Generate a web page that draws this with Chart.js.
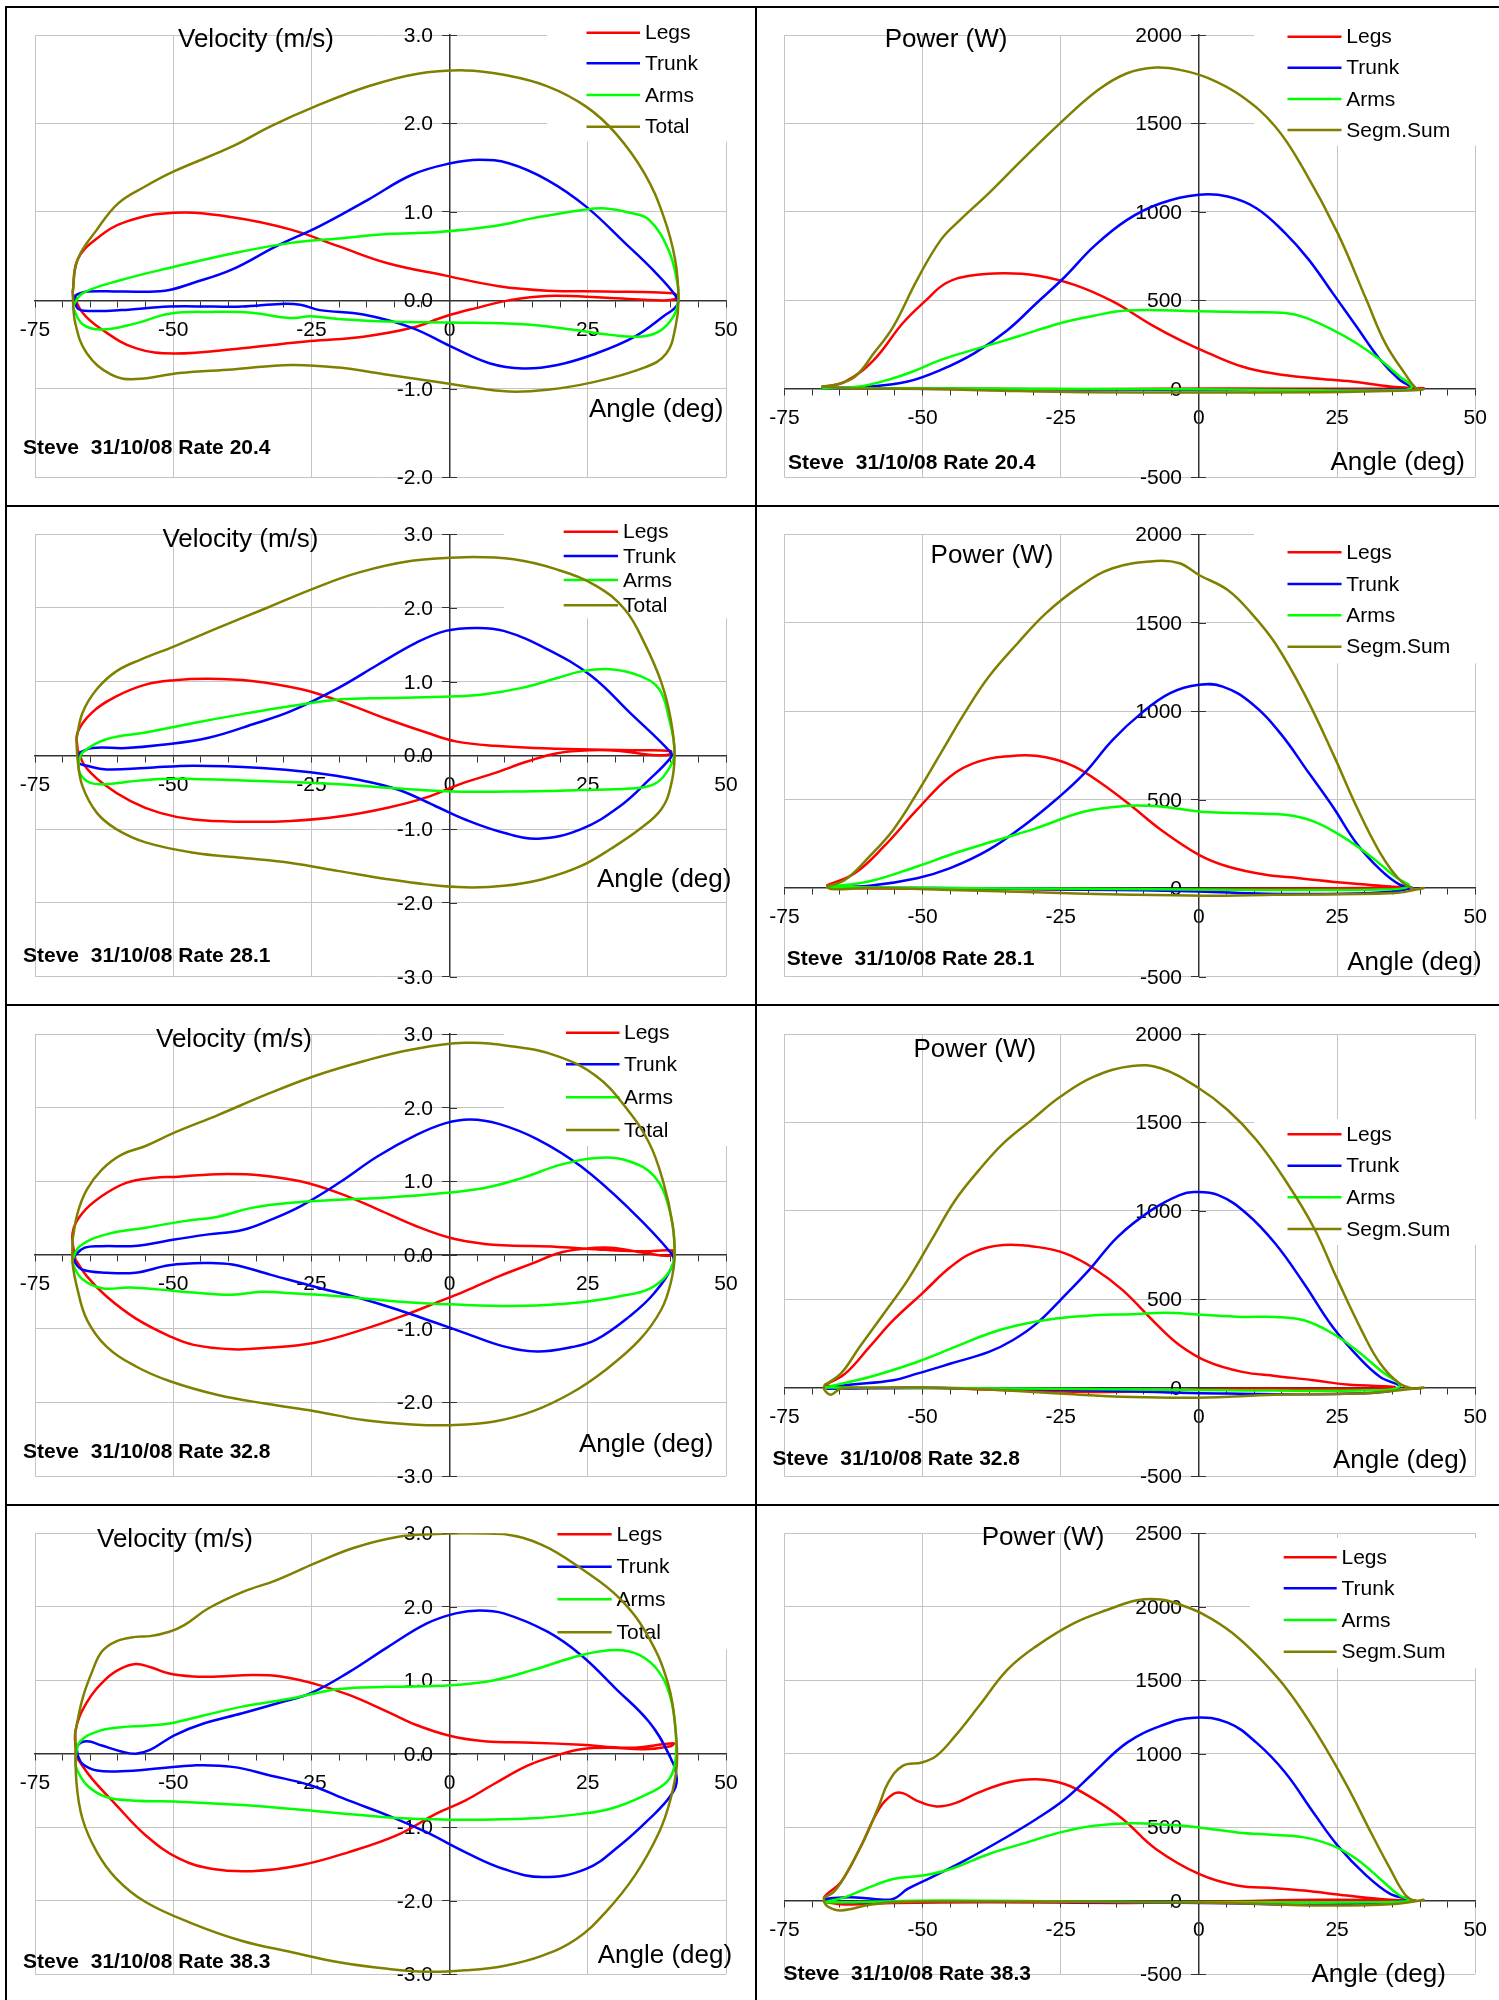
<!DOCTYPE html>
<html>
<head>
<meta charset="utf-8">
<script src="https://cdn.jsdelivr.net/npm/chart.js@4.4.1/dist/chart.umd.min.js"></script>
<style>
  html, body { margin: 0; padding: 0; background: #fff; }
  body { width: 1499px; height: 2000px; position: relative; overflow: hidden; }
  canvas { position: absolute; }
  .rule { position: absolute; background: #000; }
</style>
</head>
<body>
<script>
// Segment velocity and power against oar angle, four stroke rates.
// Every series is a closed loop of [angle (deg), value] pairs.

const RATES = ['20.4', '28.1', '32.8', '38.3'];
const VEL_LABELS = ['Legs', 'Trunk', 'Arms', 'Total'];
const POW_LABELS = ['Legs', 'Trunk', 'Arms', 'Segm.Sum'];
const ANGLE_TICKS = [-75, -50, -25, 0, 25, 50];
const VEL_TICKS_SLOW = [-2, -1, 0, 1, 2, 3];
const VEL_TICKS = [-3, -2, -1, 0, 1, 2, 3];
const POW_TICKS = [-500, 0, 500, 1000, 1500, 2000];
const POW_TICKS_HIGH = [-500, 0, 500, 1000, 1500, 2000, 2500];

// ---- velocity (m/s), rate 20.4
const vel204Legs = [[-68.2,0.08],[-67.3,0.46],[-63.8,0.7],[-58.5,0.89],[-49.8,0.99],[-39.3,0.94],[-28.7,0.8],[-20,0.61],[-11.2,0.42],[-0.7,0.28],[8.9,0.16],[17.7,0.11],[28.2,0.1],[40.5,0.08],[41.2,0.03],[38.7,0],[28.2,0.03],[17.7,0.05],[10.7,0],[4.6,-0.09],[-0.7,-0.18],[-6.8,-0.31],[-15.6,-0.41],[-25.2,-0.46],[-37.5,-0.54],[-49.8,-0.6],[-56.8,-0.54],[-62.9,-0.33],[-66.4,-0.14],[-68.2,0.08]];
const vel204Trunk = [[-67.7,0.06],[-65.6,0.1],[-59.4,0.1],[-51.5,0.11],[-46.3,0.2],[-39.3,0.35],[-31.4,0.61],[-23.5,0.84],[-14.7,1.14],[-6.8,1.42],[0.2,1.55],[5.4,1.59],[10.7,1.55],[17.7,1.36],[24.7,1.06],[31.7,0.65],[37,0.33],[40.9,0.05],[41.2,-0.05],[38.7,-0.18],[33.5,-0.41],[26.5,-0.6],[19.5,-0.73],[13.3,-0.77],[7.2,-0.71],[0.2,-0.52],[-6.8,-0.31],[-15.6,-0.16],[-23.5,-0.11],[-27,-0.05],[-30.5,-0.04],[-37.5,-0.07],[-42.8,-0.07],[-50.7,-0.07],[-59.4,-0.11],[-64.7,-0.12],[-67.3,-0.09],[-67.7,0.06]];
const vel204Arms = [[-68.2,-0.07],[-66.4,0.08],[-59.4,0.23],[-49.8,0.38],[-39.3,0.53],[-28.7,0.65],[-20,0.7],[-11.2,0.75],[-2.5,0.77],[8.1,0.84],[15.1,0.93],[23.8,1.02],[28.2,1.04],[32.6,0.99],[36.1,0.91],[39.6,0.57],[41.2,0.2],[41.4,0.01],[40.5,-0.18],[37.9,-0.35],[34.4,-0.41],[29.1,-0.39],[22.1,-0.33],[13.3,-0.27],[0.2,-0.25],[-11.2,-0.24],[-20,-0.21],[-25.2,-0.18],[-28.7,-0.2],[-35.8,-0.14],[-42.8,-0.13],[-50.7,-0.15],[-56.8,-0.26],[-62.9,-0.33],[-66.4,-0.27],[-68.2,-0.07]];
const vel204Total = [[-68.2,0.08],[-67.3,0.46],[-63.8,0.8],[-59.9,1.1],[-55,1.29],[-49.8,1.46],[-39.3,1.74],[-32.3,1.97],[-24.4,2.19],[-14.7,2.42],[-6,2.56],[2.8,2.6],[9.8,2.55],[17.7,2.42],[24.7,2.19],[30,1.89],[35.2,1.44],[38.7,0.95],[40.8,0.46],[41.4,0],[40.9,-0.29],[39.2,-0.6],[35.2,-0.76],[25.6,-0.93],[17.7,-1.01],[10.7,-1.03],[2.8,-0.97],[-2.5,-0.92],[-11.2,-0.84],[-20,-0.76],[-28.7,-0.73],[-39.3,-0.78],[-48.9,-0.82],[-56.8,-0.89],[-61.2,-0.84],[-65.6,-0.6],[-67.7,-0.26],[-68.2,0.08]];

// ---- velocity (m/s), rate 28.1
const vel281Legs = [[-67.3,0.08],[-67.3,0.31],[-64.7,0.58],[-60.3,0.8],[-55,0.96],[-49.8,1.02],[-43.6,1.04],[-35.8,1.01],[-27,0.9],[-20,0.74],[-11.2,0.49],[-4.2,0.31],[1.1,0.19],[8.1,0.13],[19.5,0.09],[32.6,0.07],[40,0.06],[39.6,0.01],[36.1,0.01],[30.8,0.06],[25.6,0.07],[19.5,0.03],[14.2,-0.08],[8.1,-0.24],[1.9,-0.39],[-4.2,-0.57],[-11.2,-0.71],[-20,-0.83],[-28.7,-0.89],[-37.5,-0.9],[-46.3,-0.87],[-52.4,-0.78],[-57.7,-0.62],[-62.9,-0.37],[-66,-0.14],[-67.3,0.08]];
const vel281Trunk = [[-66.9,0.04],[-64.7,0.1],[-58.5,0.1],[-52.4,0.14],[-43.6,0.24],[-34.9,0.44],[-28.7,0.6],[-20,0.92],[-13,1.23],[-6,1.53],[-0.7,1.69],[4.6,1.73],[9.8,1.69],[17.7,1.44],[25.6,1.08],[32.6,0.58],[40,0.04],[40,-0.03],[36.1,-0.33],[30.8,-0.69],[23.8,-1.0],[16,-1.13],[9.8,-1.05],[2.8,-0.87],[-2.5,-0.69],[-9.5,-0.46],[-16.5,-0.33],[-25.2,-0.23],[-34,-0.17],[-46.3,-0.14],[-55,-0.17],[-62.1,-0.19],[-65.6,-0.14],[-67.1,-0.1],[-66.9,0.04]];
const vel281Arms = [[-67.1,-0.1],[-66.4,0.04],[-62.1,0.22],[-55,0.31],[-46.3,0.44],[-37.5,0.56],[-28.7,0.67],[-20,0.76],[-11.2,0.78],[0.2,0.8],[6.3,0.83],[13.3,0.92],[19.5,1.05],[23.8,1.14],[29.1,1.17],[34.4,1.08],[37.9,0.9],[39.6,0.53],[40.7,0.04],[39.6,-0.19],[37,-0.39],[32.6,-0.45],[23.8,-0.47],[10.7,-0.49],[0.2,-0.49],[-11.2,-0.44],[-20,-0.39],[-28.7,-0.36],[-37.5,-0.34],[-46.3,-0.32],[-52.4,-0.32],[-58.5,-0.36],[-62.1,-0.39],[-65.1,-0.37],[-66.9,-0.24],[-67.1,-0.1]];
const vel281Total = [[-67.5,0.22],[-66.4,0.58],[-63.8,0.9],[-60.3,1.14],[-55.9,1.3],[-49.8,1.48],[-41.9,1.73],[-33.1,2.0],[-24.4,2.27],[-16.5,2.48],[-6.8,2.64],[2.8,2.69],[11.6,2.66],[19.5,2.52],[26.5,2.3],[31.7,1.98],[35.2,1.53],[38.3,0.99],[40,0.49],[40.7,0],[40,-0.42],[38.3,-0.73],[34.4,-1.0],[29.1,-1.27],[23.8,-1.5],[16.8,-1.68],[9.8,-1.77],[2.8,-1.79],[-4.2,-1.75],[-11.2,-1.68],[-20,-1.57],[-28.7,-1.46],[-37.5,-1.39],[-46.3,-1.32],[-55,-1.18],[-60.3,-1.0],[-63.8,-0.78],[-66.4,-0.42],[-67.3,-0.05],[-67.5,0.22]];

// ---- velocity (m/s), rate 32.8
const vel328Legs = [[-67.7,-0.06],[-68.2,0.3],[-66.4,0.57],[-62.9,0.8],[-58.5,0.98],[-53.3,1.05],[-49.8,1.06],[-46.3,1.08],[-40.1,1.1],[-34,1.08],[-27,1.0],[-20,0.84],[-13,0.62],[-6,0.39],[0.2,0.23],[6.3,0.15],[10.7,0.13],[19.5,0.11],[28.2,0.07],[35.2,0.05],[40.3,0.06],[40,-0.01],[35.2,0.03],[29.1,0.1],[23.8,0.08],[19.5,0.02],[15.1,-0.11],[8.9,-0.29],[2.8,-0.49],[-2.5,-0.65],[-8.6,-0.83],[-15.6,-1.01],[-24.4,-1.19],[-33.1,-1.26],[-39.3,-1.28],[-46.3,-1.22],[-50.7,-1.1],[-56.8,-0.86],[-62.1,-0.56],[-65.6,-0.29],[-67.7,-0.06]];
const vel328Trunk = [[-68,-0.02],[-66,0.1],[-62.9,0.12],[-57.7,0.12],[-55,0.14],[-49.8,0.21],[-43.6,0.28],[-37.5,0.34],[-32.3,0.48],[-27,0.66],[-20,0.98],[-13,1.34],[-6,1.63],[-0.7,1.79],[3.7,1.84],[8.9,1.78],[15.9,1.57],[23.8,1.2],[32.6,0.62],[40,0.03],[40.5,-0.11],[37,-0.52],[32.6,-0.83],[26.5,-1.15],[22.1,-1.25],[15.9,-1.31],[9.8,-1.24],[2.8,-1.06],[-2.5,-0.92],[-9.5,-0.74],[-16.5,-0.58],[-24.4,-0.43],[-32.3,-0.27],[-39.3,-0.13],[-44.5,-0.11],[-50.7,-0.14],[-56.8,-0.24],[-62.1,-0.24],[-66.4,-0.2],[-67.7,-0.11],[-68,-0.02]];
const vel328Arms = [[-68.2,-0.06],[-66.9,0.12],[-62.1,0.28],[-55,0.37],[-48,0.46],[-41.9,0.52],[-35.8,0.64],[-28.7,0.71],[-20,0.75],[-11.2,0.78],[-2.5,0.83],[6.3,0.91],[13.3,1.05],[20.3,1.23],[27.3,1.32],[32.6,1.27],[37,1.07],[39.6,0.66],[40.7,0.03],[39.6,-0.24],[36.1,-0.46],[30.8,-0.56],[23.8,-0.64],[13.3,-0.69],[0.2,-0.67],[-9.5,-0.63],[-20,-0.56],[-28.7,-0.52],[-34,-0.5],[-39.3,-0.54],[-46.3,-0.51],[-52.4,-0.47],[-57.7,-0.44],[-62.9,-0.45],[-66.4,-0.33],[-68,-0.15],[-68.2,-0.06]];
const vel328Total = [[-68.2,0.21],[-67.3,0.57],[-65.6,0.89],[-62.9,1.16],[-59.4,1.36],[-55,1.48],[-49.8,1.66],[-41.9,1.9],[-33.1,2.18],[-24.4,2.43],[-15.6,2.63],[-6.8,2.79],[2.8,2.88],[11.6,2.83],[19.5,2.7],[26.5,2.43],[31.7,2.02],[36.1,1.52],[38.7,0.98],[40.3,0.43],[40.7,-0.02],[40,-0.38],[38.3,-0.74],[34.4,-1.15],[28.2,-1.56],[22.1,-1.87],[15.1,-2.12],[8.1,-2.26],[0.2,-2.31],[-6.8,-2.3],[-15.6,-2.24],[-24.4,-2.12],[-33.1,-2.02],[-41.9,-1.9],[-50.7,-1.71],[-56.8,-1.51],[-62.1,-1.24],[-65.6,-0.88],[-67.3,-0.47],[-68.2,-0.11],[-68.2,0.21]];

// ---- velocity (m/s), rate 38.3
const vel383Legs = [[-67.3,-0.07],[-67.7,0.3],[-65.6,0.7],[-62.1,1.02],[-59.4,1.16],[-56.8,1.22],[-54.2,1.18],[-50.7,1.09],[-46.3,1.05],[-41.9,1.05],[-35.8,1.07],[-30.5,1.05],[-24.4,0.95],[-18.2,0.8],[-11.2,0.57],[-6,0.39],[0.2,0.24],[6.3,0.17],[15.1,0.15],[23.8,0.12],[32.6,0.08],[40.5,0.14],[40,0.1],[35.2,0.06],[29.1,0.08],[23.8,0.06],[19.5,-0.02],[14.2,-0.16],[8.1,-0.41],[2.8,-0.64],[-2.5,-0.82],[-9.5,-1.11],[-18.2,-1.34],[-27,-1.52],[-35.8,-1.6],[-42.8,-1.57],[-48.9,-1.43],[-55,-1.11],[-60.3,-0.7],[-64.7,-0.34],[-67.3,-0.07]];
const vel383Trunk = [[-67.3,-0.02],[-67.3,0.11],[-65.6,0.17],[-62.9,0.11],[-59.4,0.03],[-56.8,0],[-54.2,0.05],[-49.8,0.25],[-44.5,0.41],[-37.5,0.55],[-30.5,0.7],[-25.2,0.82],[-18.2,1.11],[-11.2,1.45],[-4.2,1.77],[1.1,1.91],[5.4,1.95],[9.8,1.91],[17.7,1.66],[23.8,1.34],[30,0.89],[36.1,0.43],[39.6,0],[41.1,-0.34],[40,-0.57],[36.1,-0.89],[30.8,-1.25],[24.7,-1.57],[16.8,-1.68],[9.8,-1.57],[2.8,-1.34],[-4.2,-1.07],[-11.2,-0.84],[-18.2,-0.64],[-25.2,-0.43],[-32.3,-0.3],[-39.3,-0.18],[-46.3,-0.16],[-52.4,-0.2],[-59.4,-0.24],[-63.8,-0.23],[-66.4,-0.14],[-67.3,-0.02]];
const vel383Arms = [[-67.7,-0.07],[-66.9,0.16],[-63.8,0.3],[-59.4,0.36],[-55,0.38],[-50.7,0.41],[-44.5,0.52],[-37.5,0.64],[-28.7,0.75],[-20,0.88],[-11.2,0.91],[0.2,0.93],[8.1,1.0],[15.1,1.14],[23.8,1.34],[30,1.41],[34.4,1.34],[37.9,1.11],[40,0.75],[40.9,0.3],[40.7,-0.16],[39.2,-0.39],[35.2,-0.57],[29.1,-0.75],[23.8,-0.82],[15.1,-0.88],[2.8,-0.9],[-8.6,-0.88],[-15.6,-0.84],[-24.4,-0.78],[-37.5,-0.7],[-49.8,-0.65],[-56.8,-0.64],[-62.1,-0.59],[-65.6,-0.43],[-67.5,-0.2],[-67.7,-0.07]];
const vel383Total = [[-67.7,0.3],[-66.4,0.75],[-64.7,1.11],[-62.9,1.39],[-60.3,1.53],[-56.8,1.59],[-54.2,1.6],[-50.7,1.66],[-48,1.75],[-43.6,1.98],[-37.5,2.2],[-31.4,2.36],[-24.4,2.59],[-17.4,2.8],[-9.5,2.95],[-2.5,2.99],[2.8,3.0],[9.8,2.99],[16.8,2.84],[23.8,2.52],[30.8,2.11],[36.1,1.57],[39.6,0.93],[40.9,0.3],[41.1,-0.16],[40,-0.61],[37.9,-1.07],[33.5,-1.66],[28.2,-2.16],[23,-2.52],[16.8,-2.75],[9.8,-2.89],[2.8,-2.95],[-4.2,-2.97],[-11.2,-2.93],[-20,-2.84],[-28.7,-2.7],[-37.5,-2.55],[-46.3,-2.32],[-55,-2.02],[-60.3,-1.7],[-63.8,-1.34],[-66.4,-0.89],[-67.5,-0.39],[-67.7,0.3]];

// ---- power (W), rate 20.4
const pow204Legs = [[-68.3,9],[-64,41],[-58.8,164],[-53.6,371],[-49.3,503],[-45.8,597],[-41.5,639],[-35.4,654],[-29.4,641],[-22.5,588],[-15.6,494],[-8.6,362],[-3.5,277],[1.7,202],[7.8,126],[13.8,85],[20.7,60],[27.7,41],[34.6,13],[38.9,4],[40.6,4],[31.1,0],[5.2,2],[-20.7,-2],[-46.7,2],[-64,4],[-68.3,9]];
const pow204Trunk = [[-68.3,4],[-59.6,13],[-52.7,41],[-46.7,107],[-40.6,202],[-34.6,333],[-29.4,484],[-24.2,635],[-19,805],[-13,955],[-6.9,1049],[0,1097],[5.2,1087],[10.4,1021],[15.6,880],[19.9,729],[24.2,541],[28.5,352],[32.8,164],[36.3,51],[38.5,9],[38,-2],[22.5,-6],[0,-6],[-29.4,-2],[-55.3,0],[-68.3,4]];
const pow204Arms = [[-68.3,4],[-61.4,13],[-55.3,60],[-51,107],[-46.7,164],[-39.8,230],[-32.8,296],[-25.1,371],[-19,413],[-13,443],[0,439],[9.5,433],[15.6,428],[19,405],[24.2,333],[28.5,258],[32.8,164],[36.3,70],[38.5,13],[37.2,-6],[13.8,-6],[-3.5,-2],[-29.4,0],[-55.3,4],[-68.3,4]];
const pow204Sum = [[-68.3,13],[-65.7,23],[-62.2,70],[-58.8,202],[-55.3,352],[-51,616],[-46.7,842],[-43.2,955],[-38,1106],[-32,1294],[-25.1,1502],[-18.2,1690],[-13,1784],[-7.8,1816],[-3.5,1803],[1.7,1756],[7.8,1652],[13.8,1483],[19,1238],[25.1,880],[30.3,503],[33.7,258],[37.2,89],[39.3,4],[40.6,-2],[38,-9],[22.5,-19],[0,-21],[-20.7,-19],[-38,-9],[-51,0],[-64,4],[-68.3,13]];

// ---- power (W), rate 28.1
const pow281Legs = [[-67.4,13],[-62.2,85],[-57,235],[-51,443],[-45,631],[-39.8,716],[-32.8,749],[-27.7,740],[-22.5,687],[-17.3,584],[-12.1,461],[-6.9,330],[0,188],[5.2,122],[12.1,75],[18.2,56],[26.8,28],[34.6,9],[38,0],[31.1,0],[5.2,-6],[-20.7,-9],[-46.7,-2],[-64,0],[-67.4,13]];
const pow281Trunk = [[-66.6,4],[-59.6,13],[-51,56],[-45,113],[-38,217],[-31.1,367],[-25.9,499],[-20.7,650],[-15.6,838],[-10.4,989],[-5.2,1102],[0,1149],[4.3,1139],[9.5,1045],[14.7,876],[19.9,650],[24.2,461],[28.5,254],[32.8,104],[36.3,19],[38.5,0],[31.1,-28],[12.1,-32],[0,-19],[-20.7,-9],[-46.7,0],[-66.6,4]];
const pow281Arms = [[-67.4,6],[-59.6,38],[-51,122],[-44.1,198],[-36.3,273],[-29.4,339],[-20.7,433],[-13,465],[-6.9,461],[0,433],[6.9,424],[15.6,414],[20.7,377],[25.9,292],[31.1,179],[35.4,66],[38,9],[31.1,-9],[5.2,-9],[-20.7,-4],[-46.7,0],[-67.4,6]];
const pow281Sum = [[-67.4,9],[-64,47],[-59.6,179],[-55.3,330],[-51,537],[-46.7,763],[-42.4,989],[-38,1196],[-32.8,1384],[-27.7,1553],[-21.6,1704],[-15.6,1808],[-7.8,1849],[-3.5,1836],[0,1770],[5.2,1685],[9.5,1553],[13.8,1384],[19,1102],[24.2,763],[28.5,461],[32.8,198],[36.3,47],[38.9,-6],[40.6,0],[35.4,-28],[13.8,-38],[0.9,-43],[-12.1,-38],[-29.4,-24],[-46.7,-9],[-59.6,0],[-66.6,-6],[-67.4,9]];

// ---- power (W), rate 32.8
const pow328Legs = [[-67.8,13],[-64,79],[-59.6,230],[-55.3,381],[-50.1,532],[-44.9,683],[-40.6,768],[-35.4,806],[-29.4,796],[-24.2,759],[-19,674],[-13.8,551],[-7.8,362],[-3.5,240],[1.7,145],[7.8,89],[13.8,66],[20.7,42],[26.8,17],[35.4,4],[31.1,-6],[5.2,-6],[-16.4,-25],[-33.7,-15],[-51,0],[-64,0],[-67.8,13]];
const pow328Trunk = [[-67.4,-6],[-64,13],[-55.3,42],[-51,79],[-44.9,136],[-38,202],[-33.7,268],[-29.4,362],[-25.1,494],[-19.9,664],[-14.7,853],[-8.6,1004],[-3.5,1089],[-0.9,1106],[3.5,1089],[8.6,985],[13.8,815],[19,589],[24.2,343],[29.4,155],[32.8,60],[36.3,4],[31.1,-30],[5.2,-34],[-20.7,-15],[-46.7,-2],[-67.4,-6]];
const pow328Arms = [[-67.8,0],[-59.6,60],[-51,145],[-44.1,230],[-38,306],[-32.8,353],[-25.9,391],[-19,409],[-12.1,415],[-6,423],[0,413],[7.8,400],[13.8,400],[19,381],[24.2,306],[28.5,211],[32.8,98],[36.3,8],[31.1,-15],[5.2,-15],[-20.7,-8],[-46.7,-2],[-67.8,0]];
const pow328Sum = [[-67.8,13],[-64.8,79],[-61.4,230],[-57,419],[-52.7,608],[-48.4,834],[-44.1,1060],[-39.8,1230],[-35.4,1381],[-30.3,1513],[-25.1,1645],[-19,1759],[-12.1,1819],[-6.9,1806],[0,1693],[5.2,1570],[10.4,1400],[15.6,1174],[20.7,910],[25.1,608],[29.4,325],[32.8,136],[36.3,23],[38.9,-6],[40.6,0],[31.1,-30],[13.8,-40],[0,-57],[-12.1,-53],[-25.1,-34],[-38,-11],[-50.1,0],[-59.6,-2],[-64.8,-6],[-66.6,-40],[-67.8,-11],[-67.8,13]];

// ---- power (W), rate 38.3
const pow383Legs = [[-67.4,-11],[-67.8,23],[-64.8,125],[-61.4,351],[-57.9,623],[-55.3,725],[-53.6,731],[-51,679],[-47.5,641],[-44.1,663],[-39.8,736],[-34.6,804],[-29.4,826],[-24.2,792],[-19,690],[-13.8,555],[-7.8,351],[0,181],[6.9,102],[13.8,84],[19,68],[26.8,34],[34.6,5],[38.9,0],[22.5,5],[5.2,-5],[-12.1,-16],[-38,-11],[-55.3,-16],[-64,-27],[-67.4,-11]];
const pow383Trunk = [[-67.8,11],[-63.1,23],[-58.8,11],[-55.3,11],[-52.7,79],[-48.4,158],[-42.4,272],[-35.4,419],[-29.4,555],[-24.2,691],[-19,872],[-13,1075],[-6.9,1189],[-0.9,1245],[5.2,1211],[10.4,1075],[15.6,872],[20.7,600],[25.1,374],[30.3,170],[34.6,45],[38,5],[31.1,-16],[18.2,-29],[5.2,-18],[-20.7,-11],[-46.7,-5],[-64,-11],[-67.8,11]];
const pow383Arms = [[-67.8,-11],[-64,23],[-59.6,91],[-55.3,147],[-50.1,170],[-44.9,215],[-38,317],[-31.1,396],[-25.1,464],[-19,509],[-12.1,527],[-5.2,514],[0,498],[6.9,464],[13.8,446],[19,430],[24.2,374],[28.5,283],[32.8,147],[36.3,34],[38.5,0],[31.1,-11],[5.2,-11],[-20.7,-7],[-46.7,0],[-64,-11],[-67.8,-11]];
const pow383Sum = [[-67.8,23],[-66.1,57],[-64,170],[-60.5,419],[-57.9,645],[-56.2,804],[-53.6,917],[-50.1,940],[-47.5,985],[-44.1,1121],[-39.8,1324],[-34.6,1573],[-29.4,1732],[-22.5,1890],[-16.4,1981],[-11.2,2044],[-6.9,2049],[-3.5,2015],[0.9,1947],[6,1823],[11.2,1641],[16.4,1415],[21.6,1121],[26.8,781],[31.1,464],[34.6,215],[37.2,45],[38.9,0],[40.6,5],[35.4,-23],[22.5,-34],[5.2,-16],[-12.1,-11],[-29.4,-7],[-46.7,-7],[-55.3,-11],[-59.6,-29],[-64.8,-68],[-67,-45],[-67.8,-11],[-67.8,23]];

// ---- styling
const SERIES_COLORS = ['#ff0000', '#0000ff', '#00ff00', '#808000'];
const FONT = "'Liberation Sans', Arial, sans-serif";
const GRID_COLOR = '#c4c4c4';
const AXIS_COLOR = '#333333';
const CLEAR = 'rgba(0,0,0,0)';
const Y_LABEL_GAP = 17;

// page geometry
const RULES_Y = [6, 505, 1004, 1504];
const RULES_X = [5, 755];
const CANVAS_X = [7, 757];
const CANVAS_W = [746, 742];
const CANVAS_Y = [8, 507, 1006, 1506];
const CANVAS_H = 496;
const PLOT_X = [[35, 726], [784.4, 1475.3]];
const PLOT_Y = [[35, 477.3], [534.3, 976.5], [1034, 1476], [1533.3, 1974]];

const PANELS = [
  { col: 0, row: 0, kind: 'vel', yTicks: VEL_TICKS_SLOW, series: [vel204Legs, vel204Trunk, vel204Arms, vel204Total],
    title: [178, 46.7], angle: [589, 416.5], note: [23, 454],
    legend: { rows: [32.7, 63.3, 95, 126.7], line: [586.5, 640], text: 645, box: [547, 32, 750, 141.7] } },
  { col: 1, row: 0, kind: 'pow', yTicks: POW_TICKS, series: [pow204Legs, pow204Trunk, pow204Arms, pow204Sum],
    title: [884.7, 46.7], angle: [1330.5, 470], note: [788, 469.3],
    legend: { rows: [36.7, 67.7, 99, 130], line: [1287.5, 1341.5], text: 1346.3, box: [1254, 32, 1495, 145.7] } },
  { col: 0, row: 1, kind: 'vel', yTicks: VEL_TICKS, series: [vel281Legs, vel281Trunk, vel281Arms, vel281Total],
    title: [162.4, 546.7], angle: [597, 886.7], note: [23, 961.7],
    legend: { rows: [531.7, 556, 580, 605.3], line: [563.7, 618], text: 623, box: [504, 531, 750, 618.3] } },
  { col: 1, row: 1, kind: 'pow', yTicks: POW_TICKS, series: [pow281Legs, pow281Trunk, pow281Arms, pow281Sum],
    title: [930.6, 563.3], angle: [1347.2, 970], note: [786.8, 965],
    legend: { rows: [552.3, 584, 615.3, 646.7], line: [1287.5, 1341.5], text: 1346.3, box: [1254, 531, 1495, 663.3] } },
  { col: 0, row: 2, kind: 'vel', yTicks: VEL_TICKS, series: [vel328Legs, vel328Trunk, vel328Arms, vel328Total],
    title: [156, 1046.7], angle: [579, 1451.7], note: [23, 1458.3],
    legend: { rows: [1032.7, 1064.3, 1097.3, 1130], line: [566, 619.5], text: 624, box: [504, 1031, 750, 1146] } },
  { col: 1, row: 2, kind: 'pow', yTicks: POW_TICKS, series: [pow328Legs, pow328Trunk, pow328Arms, pow328Sum],
    title: [913.4, 1056.7], angle: [1332.9, 1468.3], note: [772.5, 1465],
    legend: { rows: [1134.3, 1165.7, 1197.3, 1229], line: [1287.5, 1341.5], text: 1346.3, box: [1254, 1119, 1495, 1245] } },
  { col: 0, row: 3, kind: 'vel', yTicks: VEL_TICKS, series: [vel383Legs, vel383Trunk, vel383Arms, vel383Total],
    title: [97, 1546.7], angle: [597.7, 1963.3], note: [23, 1968.3],
    legend: { rows: [1534.3, 1566.7, 1599.3, 1632.3], line: [557.4, 611.7], text: 616.6, box: [497, 1530, 750, 1649.3] } },
  { col: 1, row: 3, kind: 'pow', yTicks: POW_TICKS_HIGH, series: [pow383Legs, pow383Trunk, pow383Arms, pow383Sum],
    title: [981.7, 1545], angle: [1311.4, 1981.7], note: [783.4, 1980],
    legend: { rows: [1557.3, 1588.3, 1620, 1651.7], line: [1283.7, 1336.7], text: 1341.5, box: [1250, 1538, 1495, 1668.3] } },
];

// frame lines between the panels
RULES_Y.forEach(y => addRule(5, y, 1494, 2));
RULES_X.forEach(x => addRule(x, 6, 2, 1994));

function addRule(x, y, w, h) {
  const d = document.createElement('div');
  d.className = 'rule';
  Object.assign(d.style, { left: x + 'px', top: y + 'px', width: w + 'px', height: h + 'px' });
  document.body.appendChild(d);
}

function yLabel(kind, v) {
  return kind === 'vel' ? v.toFixed(1) : String(v);
}

// y tick labels (set off from the axis line), right half of the y ticks,
// legend box and the free text of a panel
function panelDecor(p, ox, oy) {
  const rate = RATES[p.row];
  return {
    id: 'panelDecor',
    beforeDatasetsDraw(chart) {
      const ctx = chart.ctx;
      const xs = chart.scales.x, ys = chart.scales.y;
      const ax = Math.round(xs.getPixelForValue(0));
      ctx.save();
      ctx.strokeStyle = AXIS_COLOR;
      ctx.lineWidth = 1;
      ctx.fillStyle = '#000';
      ctx.font = `21px ${FONT}`;
      ctx.textAlign = 'right';
      ctx.textBaseline = 'middle';
      ys.ticks.forEach(t => {
        const py = Math.round(ys.getPixelForValue(t.value)) + 0.5;
        ctx.beginPath();
        ctx.moveTo(ax, py);
        ctx.lineTo(ax + 7, py);
        ctx.stroke();
        ctx.fillText(yLabel(p.kind, t.value), ax - Y_LABEL_GAP, py + 1);
      });

      const lg = p.legend;
      ctx.fillStyle = '#fff';
      ctx.fillRect(lg.box[0] - ox, lg.box[1] - oy, lg.box[2] - lg.box[0], lg.box[3] - lg.box[1]);
      ctx.textAlign = 'left';
      chart.data.datasets.forEach((ds, i) => {
        const y = lg.rows[i] - oy;
        ctx.strokeStyle = ds.borderColor;
        ctx.lineWidth = 2.5;
        ctx.beginPath();
        ctx.moveTo(lg.line[0] - ox, y);
        ctx.lineTo(lg.line[1] - ox, y);
        ctx.stroke();
        ctx.fillStyle = '#000';
        ctx.fillText(ds.label, lg.text - ox, y + 1);
      });
      ctx.restore();
    },
    afterDraw(chart) {
      const ctx = chart.ctx;
      ctx.save();
      ctx.fillStyle = '#000';
      ctx.textBaseline = 'alphabetic';
      ctx.textAlign = 'left';
      ctx.font = `26px ${FONT}`;
      ctx.fillText(p.kind === 'vel' ? 'Velocity (m/s)' : 'Power (W)', p.title[0] - ox, p.title[1] - oy);
      ctx.fillText('Angle (deg)', p.angle[0] - ox, p.angle[1] - oy);
      ctx.font = `bold 21px ${FONT}`;
      ctx.fillText(`Steve  31/10/08 Rate ${rate}`, p.note[0] - ox, p.note[1] - oy);
      ctx.restore();
    }
  };
}

PANELS.forEach(p => {
  const left = CANVAS_X[p.col], top = CANVAS_Y[p.row];
  const w = CANVAS_W[p.col], h = CANVAS_H;
  const cv = document.createElement('canvas');
  cv.width = w;
  cv.height = h;
  Object.assign(cv.style, { left: left + 'px', top: top + 'px', width: w + 'px', height: h + 'px' });
  document.body.appendChild(cv);

  const [px0, px1] = PLOT_X[p.col];
  const [py0, py1] = PLOT_Y[p.row];
  const labels = p.kind === 'vel' ? VEL_LABELS : POW_LABELS;
  const yt = p.yTicks;

  new Chart(cv, {
    type: 'scatter',
    data: {
      datasets: p.series.map((pts, i) => ({
        label: labels[i],
        data: pts.map(([x, y]) => ({ x, y })),
        borderColor: SERIES_COLORS[i],
        backgroundColor: SERIES_COLORS[i],
        borderWidth: 2.5,
        showLine: true,
        pointRadius: 0,
        tension: 0.4,
        fill: false,
        order: labels.length - 1 - i,
      })),
    },
    options: {
      responsive: false,
      animation: false,
      devicePixelRatio: 1,
      events: [],
      layout: {
        padding: { left: px0 - left, right: left + w - px1, top: py0 - top, bottom: top + h - py1 },
      },
      plugins: { legend: { display: false }, tooltip: { enabled: false } },
      scales: {
        x: {
          type: 'linear',
          position: { y: 0 },
          min: ANGLE_TICKS[0],
          max: ANGLE_TICKS[ANGLE_TICKS.length - 1],
          ticks: {
            stepSize: 5,
            autoSkip: false,
            maxRotation: 0,
            padding: 11,
            color: '#000',
            font: { family: FONT, size: 21 },
            callback: v => (ANGLE_TICKS.includes(v) ? String(v) : ''),
          },
          grid: {
            color: c => (c.tick && ANGLE_TICKS.includes(c.tick.value) && c.tick.value !== 0 ? GRID_COLOR : CLEAR),
            lineWidth: 1,
            tickColor: AXIS_COLOR,
            tickLength: 6,
            tickWidth: 1,
          },
          border: { color: AXIS_COLOR, width: 1.5 },
        },
        y: {
          type: 'linear',
          position: { x: 0 },
          min: yt[0],
          max: yt[yt.length - 1],
          ticks: {
            display: false,
            stepSize: yt[1] - yt[0],
            autoSkip: false,
          },
          grid: {
            color: c => (c.tick && c.tick.value === 0 ? CLEAR : GRID_COLOR),
            lineWidth: 1,
            tickColor: AXIS_COLOR,
            tickLength: 7,
            tickWidth: 1,
          },
          border: { color: AXIS_COLOR, width: 1.5 },
        },
      },
    },
    plugins: [panelDecor(p, left, top)],
  });
});
</script>
</body>
</html>
